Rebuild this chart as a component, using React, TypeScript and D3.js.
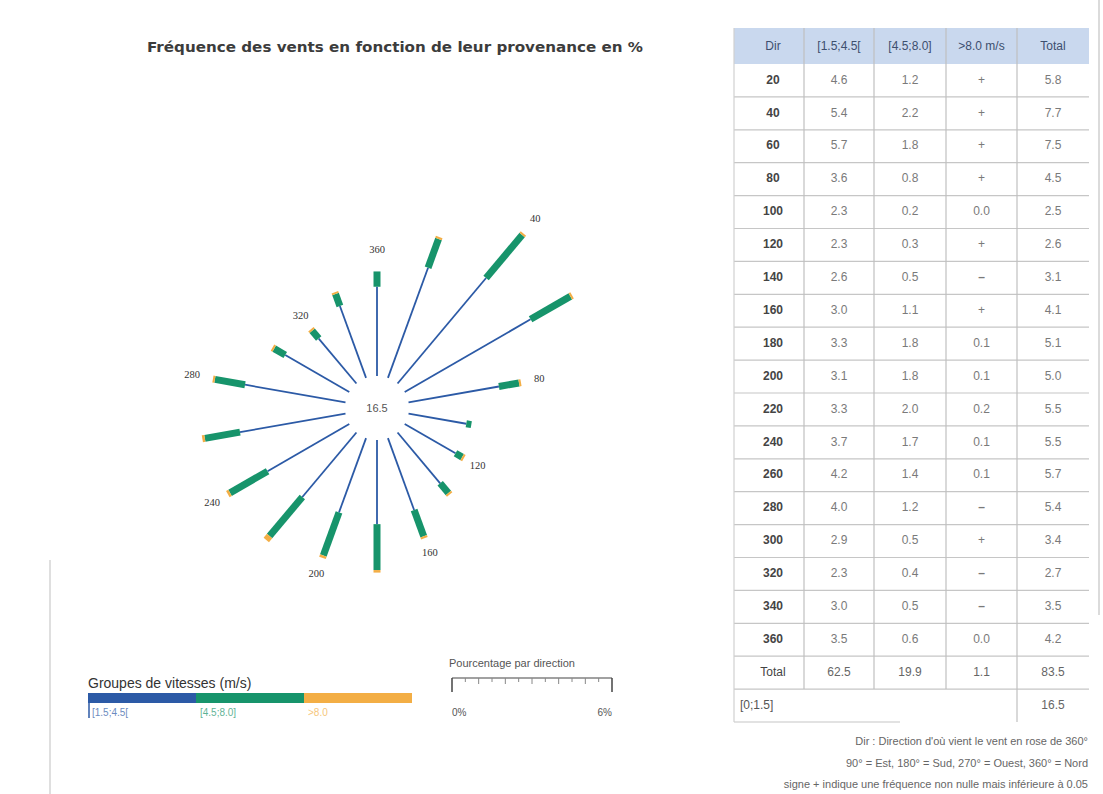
import { useEffect } from 'react'
import * as d3 from 'd3'

// wind rose + table data (% of time per direction)
const directions = [20, 40, 60, 80, 100, 120, 140, 160, 180, 200, 220, 240, 260, 280, 300, 320, 340, 360]
const lowSpeed = [4.6, 5.4, 5.7, 3.6, 2.3, 2.3, 2.6, 3.0, 3.3, 3.1, 3.3, 3.7, 4.2, 4.0, 2.9, 2.3, 3.0, 3.5]
const midSpeed = [1.2, 2.2, 1.8, 0.8, 0.2, 0.3, 0.5, 1.1, 1.8, 1.8, 2.0, 1.7, 1.4, 1.2, 0.5, 0.4, 0.5, 0.6]
const highSpeed = [0.03, 0.03, 0.03, 0.03, 0, 0.03, 0.03, 0.03, 0.1, 0.1, 0.2, 0.1, 0.1, 0.03, 0.03, 0.03, 0.03, 0]
const highLabels = ['+', '+', '+', '+', '0.0', '+', '–', '+', '0.1', '0.1', '0.2', '0.1', '0.1', '–', '+', '–', '–', '0.0']
const lowLabels = ['4.6', '5.4', '5.7', '3.6', '2.3', '2.3', '2.6', '3.0', '3.3', '3.1', '3.3', '3.7', '4.2', '4.0', '2.9', '2.3', '3.0', '3.5']
const midLabels = ['1.2', '2.2', '1.8', '0.8', '0.2', '0.3', '0.5', '1.1', '1.8', '1.8', '2.0', '1.7', '1.4', '1.2', '0.5', '0.4', '0.5', '0.6']
const totals = ['5.8', '7.7', '7.5', '4.5', '2.5', '2.6', '3.1', '4.1', '5.1', '5.0', '5.5', '5.5', '5.7', '5.4', '3.4', '2.7', '3.5', '4.2']
const labelledDirs = [40, 80, 120, 160, 200, 240, 280, 320, 360]

const headers = ['Dir', '[1.5;4.5[', '[4.5;8.0]', '>8.0 m/s', 'Total']
const totalRow = ['Total', '62.5', '19.9', '1.1', '83.5']
const calmLabel = '[0;1.5]'
const calmValue = '16.5'

const speedGroups = ['[1.5;4.5[', '[4.5;8.0]', '>8.0']
const notes = [
  "Dir : Direction d'où vient le vent en rose de 360°",
  '90° = Est, 180° = Sud, 270° = Ouest, 360° = Nord',
  'signe + indique une fréquence non nulle mais inférieure à 0.05',
]

const colors = { low: '#2c5aa6', mid: '#17946b', high: '#f3ae45' }
const font = "'Liberation Sans', Arial, sans-serif"

export default function App() {
  useEffect(() => {
    document.body.style.margin = '0'
  }, [])

  const cx = 377
  const cy = 408
  const r = d3.scaleLinear().domain([0, 8]).range([32, 236])

  const pt = (deg: number, rad: number) => {
    const a = (deg * Math.PI) / 180
    return [cx + rad * Math.sin(a), cy - rad * Math.cos(a)]
  }

  // table geometry
  const colEdges = [734, 804, 874, 946, 1017, 1089]
  const rowKeys = [...directions.map(String), 'Total', 'calm']
  const yRow = d3.scaleBand().domain(rowKeys).range([64, 722])
  const colCenter = (i: number) => (colEdges[i] + colEdges[i + 1]) / 2 + (i === 0 ? 4 : 0)

  // legend scales
  const speedX = d3.scaleBand().domain(speedGroups).range([88, 412])
  const pctX = d3.scaleLinear().domain([0, 6]).range([452, 612])

  return (
    <svg width={1103} height={794} style={{ display: 'block', fontFamily: font, background: '#fff' }}>
      {/* scan edges */}
      <line x1={1099} x2={1099} y1={0} y2={615} stroke="#cfcfcf" strokeWidth={1.5} />
      <line x1={50} x2={50} y1={560} y2={794} stroke="#d4d4d4" strokeWidth={1.5} />

      <text x={147} y={52} fontSize={14.5} fontWeight="bold" fill="#3c3c3c" fontFamily="'DejaVu Sans', sans-serif"
        textLength={496} lengthAdjust="spacingAndGlyphs">
        Fréquence des vents en fonction de leur provenance en %
      </text>

      {/* rose */}
      <g>
        {directions.map((d, i) => {
          const r0 = r(0)
          const r1 = r(lowSpeed[i])
          const r2 = r(lowSpeed[i] + midSpeed[i])
          const r3 = highSpeed[i] > 0 ? Math.max(r(lowSpeed[i] + midSpeed[i] + highSpeed[i]), r2 + 2) : r2
          const [x0, y0] = pt(d, r0)
          const [x1, y1] = pt(d, r1)
          const [x2, y2] = pt(d, r2)
          const [x3, y3] = pt(d, r3)
          return (
            <g key={d}>
              <line x1={x0} y1={y0} x2={x1} y2={y1} stroke={colors.low} strokeWidth={1.8} />
              <line x1={x1} y1={y1} x2={x2} y2={y2} stroke={colors.mid} strokeWidth={7} />
              {r3 > r2 && <line x1={x2} y1={y2} x2={x3} y2={y3} stroke={colors.high} strokeWidth={7} />}
            </g>
          )
        })}
        {labelledDirs.map((d) => {
          const i = directions.indexOf(d)
          const [lx, ly] = pt(d, r(+totals[i]) + 18)
          return (
            <text key={d} x={lx} y={ly} fontSize={10.5} fill="#333" textAnchor="middle" dominantBaseline="middle"
              fontFamily="'Liberation Serif', serif">
              {d}
            </text>
          )
        })}
        <text x={cx} y={cy + 1} fontSize={11} fill="#555" textAnchor="middle" dominantBaseline="middle">
          {calmValue}
        </text>
      </g>

      {/* speed legend */}
      <text x={88} y={688} fontSize={14} fill="#333">Groupes de vitesses (m/s)</text>
      {speedGroups.map((g, i) => (
        <g key={g}>
          <rect x={speedX(g)} y={693} width={speedX.bandwidth()} height={10}
            fill={[colors.low, colors.mid, colors.high][i]} />
          <text x={(speedX(g) as number) + 4} y={716} fontSize={10}
            fill={[colors.low, colors.mid, colors.high][i]} opacity={0.7}>
            {g}
          </text>
        </g>
      ))}
      <line x1={89} x2={89} y1={703} y2={718} stroke={colors.low} strokeWidth={1.5} />

      {/* percentage scale */}
      <text x={449} y={667} fontSize={11} fill="#555">Pourcentage par direction</text>
      <line x1={pctX(0)} x2={pctX(6)} y1={678} y2={678} stroke="#444" strokeWidth={1.2} />
      {d3.range(0, 6.01, 0.5).map((t) => {
        const end = t === 0 || t === 6
        const len = end ? 14 : Number.isInteger(t) ? 6 : 4
        return <line key={t} x1={pctX(t)} x2={pctX(t)} y1={678} y2={678 + len} stroke={end ? '#444' : '#888'} strokeWidth={end ? 1.5 : 1} />
      })}
      <text x={pctX(0)} y={716} fontSize={10} fill="#555" textAnchor="start">0%</text>
      <text x={pctX(6)} y={716} fontSize={10} fill="#555" textAnchor="end">6%</text>

      {/* table */}
      <g fontSize={12}>
        <rect x={colEdges[0]} y={28} width={colEdges[5] - colEdges[0]} height={36} fill="#c9d8ee" />
        {headers.map((h, i) => (
          <text key={h} x={colCenter(i)} y={47} textAnchor="middle" dominantBaseline="middle" fill="#3d4f6e">
            {h}
          </text>
        ))}
        {rowKeys.map((k) => (
          <line key={k} x1={colEdges[0]} x2={k === 'calm' ? 900 : colEdges[5]} y1={(yRow(k) as number) + yRow.bandwidth()}
            y2={(yRow(k) as number) + yRow.bandwidth()} stroke="#c6c6c6" strokeWidth={1.2} />
        ))}
        <line x1={colEdges[0]} x2={colEdges[0]} y1={28} y2={722} stroke="#d0d0d0" strokeWidth={1.2} />
        {colEdges.slice(1, 5).map((x, i) => (
          <line key={x} x1={x} x2={x} y1={28} y2={i === 3 ? 722 : (yRow('Total') as number) + yRow.bandwidth()}
            stroke="#c0c0c0" strokeWidth={1.2} />
        ))}
        {directions.map((d, i) => {
          const y = (yRow(String(d)) as number) + yRow.bandwidth() / 2
          const cells = [String(d), lowLabels[i], midLabels[i], highLabels[i], totals[i]]
          return cells.map((c, j) => (
            <text key={`${d}-${j}`} x={colCenter(j)} y={y} textAnchor="middle" dominantBaseline="middle"
              fill={j === 0 ? '#444' : '#7a7a7a'} fontWeight={j === 0 || c === '–' ? 'bold' : 'normal'}>
              {c}
            </text>
          ))
        })}
        {totalRow.map((c, j) => (
          <text key={`tot-${j}`} x={colCenter(j)} y={(yRow('Total') as number) + yRow.bandwidth() / 2}
            textAnchor="middle" dominantBaseline="middle" fill={j === 0 ? '#444' : '#666'}>
            {c}
          </text>
        ))}
        <text x={colEdges[0] + 6} y={(yRow('calm') as number) + yRow.bandwidth() / 2} dominantBaseline="middle" fill="#555">
          {calmLabel}
        </text>
        <text x={colCenter(4)} y={(yRow('calm') as number) + yRow.bandwidth() / 2} textAnchor="middle"
          dominantBaseline="middle" fill="#666">
          {calmValue}
        </text>
      </g>

      {/* notes */}
      {notes.map((n, i) => (
        <text key={i} x={1088} y={745 + i * 21.5} fontSize={11} fill="#666" textAnchor="end">
          {n}
        </text>
      ))}
    </svg>
  )
}
